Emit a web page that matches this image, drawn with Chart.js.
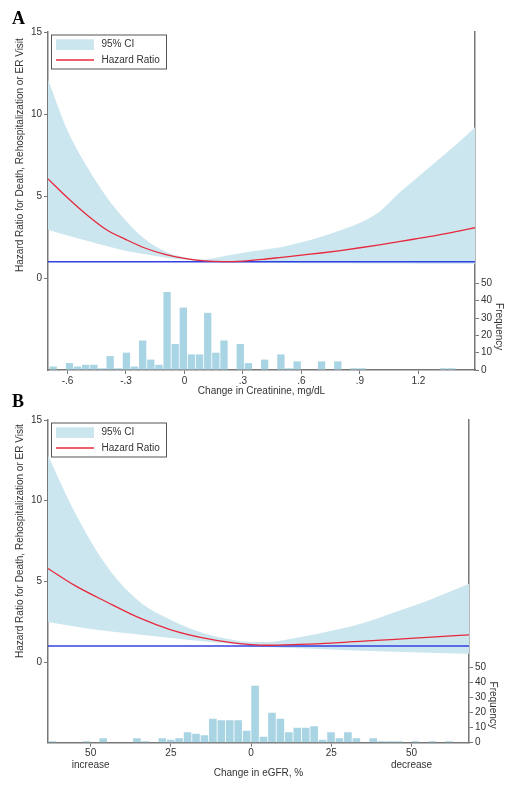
<!DOCTYPE html>
<html>
<head>
<meta charset="utf-8">
<script src="https://cdn.jsdelivr.net/npm/chart.js@4.4.1/dist/chart.umd.min.js"></script>
<style>
  html, body { margin: 0; padding: 0; background: #fff; }
  #wrap { position: relative; width: 514px; height: 790px; }
  .panel { position: absolute; left: 0; width: 514px; }
  .lbl { position: absolute; left: 12px; font: bold 18px "Liberation Serif", "Times New Roman", serif; color: #000; }
</style>
</head>
<body>
<div id="wrap">
  <div class="panel" style="top:0;height:402px"><canvas id="chartA" width="514" height="402"></canvas></div>
  <div class="panel" style="top:395px;height:395px"><canvas id="chartB" width="514" height="395"></canvas></div>
  <div class="lbl" style="top:8px">A</div>
  <div class="lbl" style="top:391px">B</div>
</div>
<script>
// shared
const hrTicks = [0, 5, 10, 15];
const freqTicks = [0, 10, 20, 30, 40, 50];
const refHR = 1;
const yTitle = 'Hazard Ratio for Death, Rehospitalization or ER Visit';
const freqTitle = 'Frequency';
const legendLabels = ['95% CI', 'Hazard Ratio'];

// panel A - change in creatinine, mg/dL
const xA      = [-0.7, -0.6, -0.5, -0.4, -0.3, -0.2, -0.1, 0, 0.1, 0.2, 0.3, 0.4, 0.5, 0.6, 0.7, 0.8, 0.9, 1.0, 1.1, 1.2, 1.3, 1.4, 1.49];
const hrA     = [6.05, 4.9, 3.85, 2.95, 2.35, 1.82, 1.45, 1.2, 1.05, 1.0, 1.04, 1.14, 1.27, 1.4, 1.53, 1.68, 1.85, 2.03, 2.22, 2.42, 2.62, 2.85, 3.07];
const ciHighA = [12.1, 9.0, 6.8, 4.95, 3.5, 2.35, 1.62, 1.27, 1.14, 1.33, 1.55, 1.72, 1.9, 2.18, 2.52, 2.92, 3.38, 4.05, 5.18, 6.2, 7.2, 8.2, 9.2];
const ciLowA  = [2.95, 2.6, 2.28, 1.95, 1.65, 1.45, 1.25, 1.12, 1.01, 0.97, 0.95, 0.93, 0.92, 0.91, 0.9, 0.9, 0.89, 0.89, 0.89, 0.88, 0.88, 0.88, 0.88];
const histStartA = -0.694, histWidthA = 0.0417;
const freqA = [2, 0, 4, 2, 3, 3, 1, 8, 1, 10, 2, 17, 6, 3, 45, 15, 36, 9, 9, 33,
               10, 17, 0, 15, 4, 0, 6, 0, 9, 1, 5, 0, 0, 5, 0, 5, 0, 1, 1, 0,
               0, 0, 0, 0, 0, 0, 0, 0, 1, 1];
const xTicksA = [-0.6, -0.3, 0, 0.3, 0.6, 0.9, 1.2];

// panel B - change in eGFR, % (left = increase, right = decrease)
const xB      = [-63.3, -55, -45, -35, -25, -15, -5, 0, 5, 15, 25, 35, 45, 55, 67.9];
const hrB     = [5.8, 4.75, 3.72, 2.75, 2.0, 1.5, 1.17, 1.08, 1.04, 1.09, 1.17, 1.3, 1.41, 1.53, 1.68];
const ciHighB = [12.8, 9.3, 5.95, 3.78, 2.6, 1.8, 1.35, 1.24, 1.24, 1.53, 1.94, 2.42, 3.1, 3.8, 4.85];
const ciLowB  = [2.48, 2.2, 1.92, 1.7, 1.49, 1.29, 1.1, 1.0, 0.93, 0.85, 0.78, 0.7, 0.63, 0.57, 0.52];
const histStartB = -63.2, histWidthB = 2.63;
const freqB = [1, 0, 0, 0, 1, 0, 3, 0, 0, 0, 3, 1, 0, 3, 2, 3, 7, 6, 5, 16,
               15, 15, 15, 8, 38, 4, 20, 16, 7, 10, 10, 11, 2, 7, 3, 7, 3, 0, 3, 1,
               1, 1, 0, 1, 0, 1, 0, 1, 0, 0];
const xTicksB = [-50, -25, 0, 25, 50];

const FONT = '10px "Liberation Sans", Arial, sans-serif';
const TEXT = '#333';
const AXIS = '#777';
const CI_FILL = '#cbe6ee';
const BAR_FILL = '#a9d4e3';
const HR_COL = '#e8283c';
const REF_COL = '#3340e0';

const extras = {
  id: 'extras',
  afterDraw(chart, args, o) {
    const ctx = chart.ctx, a = chart.chartArea;
    const ys = chart.scales.y, fs = chart.scales.y2;
    ctx.save();
    ctx.font = FONT;
    ctx.fillStyle = TEXT;
    ctx.textAlign = 'center';
    ctx.textBaseline = 'middle';
    // left title sits against the hazard ratio part of the axis only
    const hrMid = (ys.getPixelForValue(hrTicks[0]) + ys.getPixelForValue(hrTicks[hrTicks.length - 1])) / 2;
    ctx.save();
    ctx.translate(a.left - 28, hrMid);
    ctx.rotate(-Math.PI / 2);
    ctx.fillText(yTitle, 0, 0);
    ctx.restore();
    const fMid = (fs.getPixelForValue(freqTicks[0]) + fs.getPixelForValue(freqTicks[freqTicks.length - 1])) / 2;
    ctx.save();
    ctx.translate(a.right + 24, fMid);
    ctx.rotate(Math.PI / 2);
    ctx.fillText(freqTitle, 0, 0);
    ctx.restore();
    ctx.fillText(o.xTitle, (a.left + a.right) / 2, a.bottom + o.xTitleGap);

    // legend box
    const lx = a.left + 3.5, ly = a.top + 3;
    ctx.fillStyle = '#fff';
    ctx.fillRect(lx, ly, 115, 34);
    ctx.strokeStyle = '#555';
    ctx.lineWidth = 1;
    ctx.strokeRect(lx, ly, 115, 34);
    ctx.fillStyle = CI_FILL;
    ctx.fillRect(lx + 4.5, ly + 4.3, 38, 10.7);
    ctx.strokeStyle = HR_COL;
    ctx.lineWidth = 1.3;
    ctx.beginPath();
    ctx.moveTo(lx + 4.5, ly + 25);
    ctx.lineTo(lx + 42.5, ly + 25);
    ctx.stroke();
    ctx.fillStyle = TEXT;
    ctx.textAlign = 'left';
    ctx.fillText(legendLabels[0], lx + 50, ly + 9.5);
    ctx.fillText(legendLabels[1], lx + 50, ly + 25);
    ctx.restore();
  }
};

function pts(xs, ys) { return xs.map((x, i) => ({ x: x, y: ys[i] })); }
function bins(start, w, f) { return f.map((v, i) => ({ x: start + (i + 0.5) * w, y: v })); }

function makePanel(id, p) {
  const tickFont = { family: '"Liberation Sans", Arial, sans-serif', size: 10 };
  return new Chart(document.getElementById(id), {
    type: 'line',
    data: {
      datasets: [
        { label: legendLabels[1], data: pts(p.xs, p.hr), borderColor: HR_COL, borderWidth: 1.3,
          pointRadius: 0, cubicInterpolationMode: 'monotone', fill: false, yAxisID: 'y' },
        { label: 'ref', data: [{ x: p.xMin, y: refHR }, { x: p.xMax, y: refHR }], borderColor: REF_COL,
          borderWidth: 1.5, pointRadius: 0, fill: false, yAxisID: 'y' },
        { label: legendLabels[0], data: pts(p.xs, p.hi), borderWidth: 0, borderColor: 'rgba(0,0,0,0)',
          backgroundColor: CI_FILL, pointRadius: 0, cubicInterpolationMode: 'monotone', fill: '+1', yAxisID: 'y' },
        { label: 'lower', data: pts(p.xs, p.lo), borderWidth: 0, borderColor: 'rgba(0,0,0,0)',
          pointRadius: 0, cubicInterpolationMode: 'monotone', fill: false, yAxisID: 'y' },
        { type: 'bar', label: 'freq', data: bins(p.hStart, p.hWidth, p.freq), backgroundColor: BAR_FILL,
          borderWidth: 0, barPercentage: 1, categoryPercentage: 0.9, yAxisID: 'y2' }
      ]
    },
    options: {
      responsive: false,
      animation: false,
      devicePixelRatio: 1,
      layout: { padding: { top: p.top, left: 0, right: 0, bottom: 0 } },
      plugins: {
        legend: { display: false },
        tooltip: { enabled: false },
        extras: { xTitle: p.xTitle, xTitleGap: p.xTitleGap }
      },
      scales: {
        x: {
          type: 'linear', min: p.xMin, max: p.xMax, offset: false,
          afterBuildTicks: s => { s.ticks = p.xTicks.map(v => ({ value: v })); },
          afterFit: s => { s.height = p.xHeight; },
          border: { display: true, color: AXIS, width: 1.5 },
          grid: { display: true, offset: false, drawOnChartArea: false, drawTicks: true, tickLength: 4, color: AXIS },
          ticks: { font: tickFont, color: TEXT, padding: 1, maxRotation: 0, callback: p.xFmt }
        },
        y: {
          type: 'linear', position: 'left', min: p.hrMin, max: 15,
          afterBuildTicks: s => { s.ticks = hrTicks.map(v => ({ value: v })); },
          afterFit: s => { s.width = 48; },
          border: { display: true, color: AXIS, width: 1.5 },
          grid: { display: true, drawOnChartArea: false, drawTicks: true, tickLength: 4, color: AXIS },
          ticks: { font: tickFont, color: TEXT, padding: 2 }
        },
        y2: {
          type: 'linear', position: 'right', min: 0, max: p.freqMax,
          afterBuildTicks: s => { s.ticks = freqTicks.map(v => ({ value: v })); },
          afterFit: s => { s.width = p.rightW; },
          border: { display: true, color: AXIS, width: 1.5 },
          grid: { display: true, drawOnChartArea: false, drawTicks: true, tickLength: 4, color: AXIS },
          ticks: { font: tickFont, color: TEXT, padding: 2 }
        }
      }
    },
    plugins: [extras]
  });
}

makePanel('chartA', {
  xs: xA, hr: hrA, hi: ciHighA, lo: ciLowA,
  hStart: histStartA, hWidth: histWidthA, freq: freqA,
  xMin: -0.7, xMax: 1.49, xTicks: xTicksA,
  xFmt: v => String(+v.toFixed(1)).replace(/^(-?)0\./, '$1.'),
  xTitle: 'Change in Creatinine, mg/dL', xTitleGap: 21.7,
  hrMin: -5.6, freqMax: 195, top: 32, xHeight: 32, rightW: 39
});

makePanel('chartB', {
  xs: xB, hr: hrB, hi: ciHighB, lo: ciLowB,
  hStart: histStartB, hWidth: histWidthB, freq: freqB,
  xMin: -63.3, xMax: 67.9, xTicks: xTicksB,
  xFmt: v => v === -50 ? ['50', 'increase'] : v === 50 ? ['50', 'decrease'] : String(Math.abs(v)),
  xTitle: 'Change in eGFR, %', xTitleGap: 30.3,
  hrMin: -5.0, freqMax: 215, top: 25, xHeight: 47.3, rightW: 45
});
</script>
</body>
</html>
